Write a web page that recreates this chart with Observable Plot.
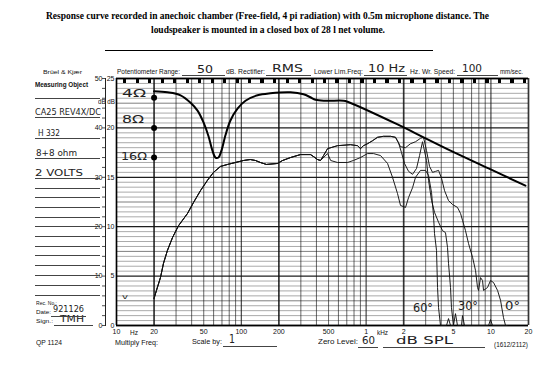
<!DOCTYPE html>
<html><head><meta charset="utf-8">
<script src="https://cdn.jsdelivr.net/npm/d3@7"></script>
<script src="https://cdn.jsdelivr.net/npm/@observablehq/plot@0.6"></script>
<style>
html,body{margin:0;padding:0;background:#fff;}
#wrap{position:relative;width:552px;height:371px;overflow:hidden;background:#fff;}
#wrap svg{position:absolute;left:0;top:0;}
.t{position:absolute;white-space:nowrap;line-height:1;color:#111;font-family:"Liberation Sans",Arial,sans-serif;transform-origin:0 50%;}
.ttl{font-family:"Liberation Serif","Times New Roman",serif;font-weight:bold;color:#000;}
.hw{font-family:"DejaVu Sans",sans-serif;color:#222;}
.b{font-weight:bold;}
.ln{position:absolute;height:0;border-top:1px solid #444;}
</style></head><body><div id="wrap"></div>
<script>
// ---------- data (frequency in Hz, level in dB) ----------
const dbGrid = d3.range(0, 51, 1);
const freqGrid = [...d3.range(10, 100, 10), ...d3.range(100, 1000, 100), ...d3.range(1000, 10000, 1000), 10000, 20000];
const freqTicks = [10, 20, 50, 100, 200, 500, 1000, 2000, 5000, 10000, 20000];
const freqTickLabels = ["10", "20", "50", "100", "200", "500", "1", "2", "5", "10", "20"];
const dbTicks = [0, 10, 20, 30, 40, 50];
const dbOuterLabels = ["0", "10", "20", "30", "40", "50"];
const dbInnerLabels = ["0", "5", "10", "15", "20", "25"];
const dbMinorTicks = d3.range(0, 51, 2);

// impedance curve (thick)
const impedance = [[20,47.4],[25.6,47.2],[32.6,46.6],[39.2,45.1],[44.6,43.5],[49.8,41.1],[54.6,38.3],[58.7,35.4],[62.1,34.0],[65.6,34.0],[69.3,35.4],[74.6,38.5],[81.8,41.5],[93.2,43.9],[108,45.5],[135,46.6],[171,47.0],[248,47.2],[315,46.8],[358,46.2],[393,45.7],[473,45.5],[659,45.5],[710,45.3],[1786,40.7],[2884,38.1],[4745,35.4],[9572,31.8],[18900,28.3]];
// impedance calibration points at 20 Hz
const calLabels = ["4Ω", "8Ω", "16Ω"];
const calFreq = [20, 20, 20];
const calDb = [46.1, 40.0, 34.0];

// response: common low-frequency part
const commonLow = [[20,5.5],[20.9,7.1],[22.5,9.7],[23.8,12.6],[25.6,15.2],[28.1,17.8],[31.4,20.2],[33.8,21.3],[37.1,22.7],[41.4,24.9],[47.1,27.3],[53.6,29.4],[59.9,31.0],[68.1,32.2],[77.5,32.6],[89.8,33.0],[104,33.4],[118,33.6],[130,33.4],[142,33.0],[159,32.6],[195,32.8],[214,33.4],[248,34.0],[298,34.6],[358,34.6],[379,34.2],[408,33.6],[431,33.4]];
// 0° / 30° shared middle part
const upperMid = [[456,34.4],[491,35.8],[590,36.4],[750,36.6],[853,36.4],[902,35.8],[953,36.4],[1026,36.8],[1125,37.4],[1234,38.1],[1378,38.3],[1569,38.3],[1720,38.1]];
const resp0High = [[1886,36.2],[2069,36.0],[2269,36.8],[2488,37.2],[2729,37.9],[2884,38.1],[3048,35.4],[3222,32.2],[3405,31.0],[3600,31.2],[3805,31.4],[4020,29.8],[4250,27.3],[4572,25.3],[4920,24.5],[5395,23.9],[5705,22.7],[5920,21.3],[6255,19.2],[6615,16.6],[7125,13.8],[7530,11.1],[7810,7.7],[7955,7.1],[8255,9.7],[8565,9.1],[8725,7.1],[9395,7.7],[9925,9.1],[10490,8.7],[11300,7.1],[11940,5.1],[12610,1.6],[13090,0]];
const resp30High = [[1818,37.0],[1921,35.0],[2031,32.8],[2188,31.2],[2355,30.6],[2535,31.8],[2680,34.4],[2832,37.2],[3048,33.4],[3162,29.4],[3343,25.3],[3532,22.9],[3805,20.9],[4095,19.2],[4325,18.8],[4490,15.8],[4572,12.6],[4745,7.7],[4830,3.6],[5010,0],[5200,2.4],[5395,0],[5810,0],[5920,2.0],[6140,0],[9572,0],[9925,1.2],[10300,0],[13500,0]];
const resp60High = [[491,34.8],[520,33.4],[590,33.0],[710,33.0],[790,33.4],[902,34.0],[1026,34.8],[1146,34.8],[1305,34.4],[1485,32.8],[1627,30.0],[1785,26.7],[1886,24.3],[2069,23.9],[2188,25.9],[2355,27.9],[2488,30.0],[2729,31.4],[2992,31.4],[3162,30.4],[3343,26.9],[3467,22.3],[3532,18.6],[3665,15.2],[3735,7.7],[3805,3.6],[3945,0],[4406,0],[4572,1.4],[4745,0],[5010,0]];

const toRows = (arr, s) => arr.map(([f, db]) => ({f, db, s}));
const responses = [
  ...toRows([...commonLow, ...upperMid, ...resp0High], "0°"),
  ...toRows([...commonLow, ...upperMid, ...resp30High], "30°"),
  ...toRows([...commonLow, ...resp60High], "60°")
];
const impRows = toRows(impedance, "Z");
const calRows = calLabels.map((l, i) => ({l, f: calFreq[i], db: calDb[i]}));

const thick = new Set([20, 200, 2000, 20000]);
const medium = new Set([10, 100, 1000, 10000]);

const wrap = document.getElementById("wrap");
const chart = Plot.plot({
  width: 552, height: 371,
  marginTop: 78, marginRight: 24, marginBottom: 46, marginLeft: 116,
  style: {fontFamily: "Liberation Sans, Arial, sans-serif", fontSize: "7px", color: "#111", background: "transparent"},
  x: {type: "log", domain: [10, 20000], axis: null},
  y: {domain: [0, 50], axis: null},
  marks: [
    Plot.ruleY(dbGrid, {y: d => d, stroke: "#111", strokeOpacity: d => d % 10 === 0 ? 0.95 : 0.6, strokeWidth: d => d % 10 === 0 ? 1.3 : (d % 5 === 0 ? 0.9 : 0.6)}),
    Plot.ruleX(freqGrid, {x: d => d, stroke: "#111", strokeOpacity: 0.85, strokeWidth: d => thick.has(d) ? 1.7 : (medium.has(d) ? 1.1 : 0.75)}),
    Plot.ruleX([10], {x: d => d, stroke: "#000", strokeWidth: 1.6}),
    Plot.ruleY([0, 50], {y: d => d, stroke: "#000", strokeWidth: 1.5}),
    Plot.line(responses, {x: "f", y: "db", z: "s", stroke: "#111", strokeWidth: 0.95, strokeLinejoin: "round"}),
    Plot.line(impRows, {x: "f", y: "db", stroke: "#000", strokeWidth: 2, curve: "catmull-rom"}),
    Plot.dot(calRows, {x: "f", y: "db", r: 3, fill: "#000", stroke: "none"}),
    // bottom frequency labels
    Plot.text(freqTicks, {x: d => d, text: (d, i) => freqTickLabels[i], frameAnchor: "bottom", dy: 8, fontSize: 7, fill: "#111"}),
    // left dB labels: outer (0..50) and inner (0..25) columns
    Plot.text(dbTicks, {y: d => d, text: (d, i) => dbOuterLabels[i], frameAnchor: "left", textAnchor: "end", dx: -14, fontSize: 7, fill: "#111"}),
    Plot.text(dbTicks, {y: d => d, text: (d, i) => dbInnerLabels[i], frameAnchor: "left", textAnchor: "end", dx: -2, fontSize: 7, fill: "#111"}),
    // small ticks on the left scale line
    Plot.tickY(dbMinorTicks, {y: d => d, stroke: "#222", strokeWidth: 0.8, insetLeft: -14, insetRight: 423})
  ]
});
wrap.appendChild(chart);

// ---------- form decorations (text stays real text) ----------
function put(txt, x1, x2, yc, size, cls) {
  const s = document.createElement("span");
  s.className = "t " + (cls || "");
  s.textContent = txt;
  s.style.left = x1 + "px";
  s.style.top = (yc - size / 2) + "px";
  s.style.fontSize = size + "px";
  wrap.appendChild(s);
  const w = s.getBoundingClientRect().width;
  if (x2 && w > 0) s.style.transform = `scaleX(${(x2 - x1) / w})`;
}
function hline(x1, x2, y, w, c) {
  const d = document.createElement("div");
  d.className = "ln";
  d.style.left = x1 + "px"; d.style.top = y + "px"; d.style.width = (x2 - x1) + "px";
  if (w) d.style.borderTopWidth = w + "px";
  if (c) d.style.borderTopColor = c;
  wrap.appendChild(d);
}
function vline(x, y1, y2, w) {
  const d = document.createElement("div");
  d.style.cssText = `position:absolute;left:${x}px;top:${y1}px;height:${y2 - y1}px;width:0;border-left:${w}px solid #222;`;
  wrap.appendChild(d);
}
// paper timing marks on top border
const tm = document.createElement("div");
tm.style.cssText = "position:absolute;left:123px;top:78px;width:405px;height:5px;background:repeating-linear-gradient(90deg,#000 0 3px,transparent 3px 12.5px);";
wrap.appendChild(tm);
vline(105, 78, 326, 1);

const texts = [
  ["Response curve recorded in anechoic chamber (Free-field, 4 pi radiation) with 0.5m microphone distance. The", 46, 489, 17, 9.5, "ttl"],
  ["loudspeaker is mounted in a closed box of 28 l net volume.", 151, 385, 31, 9.5, "ttl"],
  ["Brüel & Kjær", 43, 82, 72, 6, ""],
  ["Measuring Object", 35, 88, 85, 6.5, "b"],
  ["Potentiometer Range:", 117, 180, 72, 6.5, ""],
  ["50", 197, 213, 69, 11, "hw"],
  ["dB. Rectifier:", 226, 265, 72, 6.5, ""],
  ["RMS", 272, 303, 69, 10, "hw"],
  ["Lower Lim.Freq:", 314, 363, 72, 6.5, ""],
  ["10 Hz", 368, 405, 69, 10, "hw"],
  ["Hz. Wr. Speed:", 410, 455, 72, 6.5, ""],
  ["100", 462, 482, 69, 10, "hw"],
  ["mm/sec.", 500, 523, 72, 6.5, ""],
  ["dB dB", 98, 115, 102, 6.5, ""],
  ["CA25 REV4X/DC", 35, 101, 112, 9.5, "hw"],
  ["H 332", 38, 60, 133, 9.5, "hw"],
  ["8+8 ohm", 36, 77, 153, 9.5, "hw"],
  ["2 VOLTS", 35, 83, 173, 9.5, "hw"],
  ["Rec. No.:", 36, 57, 303, 6, ""],
  ["Date:", 36, 51, 312, 6, ""],
  ["921126", 53, 84, 309, 9, "hw"],
  ["Sign.:", 36, 53, 321, 6, ""],
  ["TMH", 60, 84, 319, 8.5, "hw"],
  ["QP 1124", 36, 62, 343, 6.5, ""],
  ["v", 122, 128, 297, 7, "hw"],
  ["Hz", 130, 138, 333, 6.5, ""],
  ["kHz", 377, 388, 333, 6.5, ""],
  ["Multiply Freq:", 115, 158, 343, 6.5, ""],
  ["Scale by:", 192, 222, 342, 6.5, ""],
  ["1", 229, 235, 339, 12, "hw"],
  ["Zero Level:", 318, 358, 342, 6.5, ""],
  ["60", 362, 375, 340, 11, "hw"],
  ["dB  SPL", 396, 453, 340, 11, "hw"],
  ["(1612/2112)", 494, 528, 345, 6.5, ""],
  ["60°", 413, 433, 308, 12, "hw"],
  ["30°", 458, 478, 306, 12, "hw"],
  ["0°", 505, 520, 306, 12, "hw"],
  [calLabels[0], 122, 146, 94, 10, "hw"],
  [calLabels[1], 122, 144, 120, 10, "hw"],
  [calLabels[2], 121, 147, 157, 10, "hw"]
];
texts.forEach(t => put(...t));

// title rule and form lines
hline(105, 433, 50, 1.5, "#000");
hline(182, 225, 75, 1); hline(266, 311, 75, 1); hline(364, 407, 75, 1); hline(457, 498, 75, 1);
[98, 117, 138, 158, 178, 188, 197, 207, 217, 226, 236, 246, 255, 265, 275, 285, 295].forEach(y => hline(35, 100, y, 1));
hline(51, 86, 316, 1); hline(54, 93, 325, 1);
hline(223, 277, 346, 1); hline(358, 378, 347, 1); hline(383, 485, 347, 1);
</script></body></html>
